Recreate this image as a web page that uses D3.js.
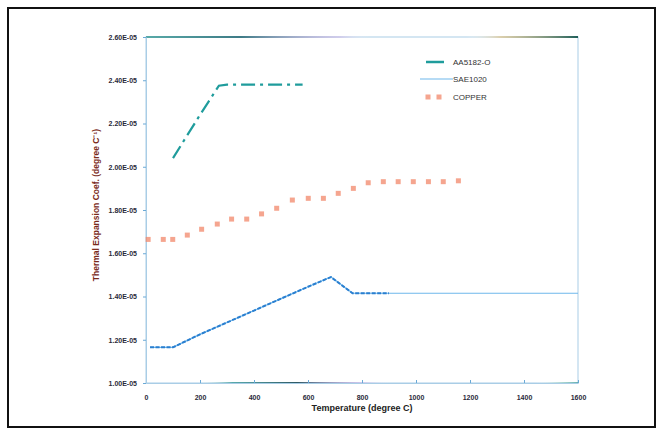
<!DOCTYPE html>
<html>
<head>
<meta charset="utf-8">
<script src="https://cdn.jsdelivr.net/npm/d3@7"></script>
<style>
  body { margin: 0; background: #fff; }
  text { font-family: "Liberation Sans", Arial, sans-serif; }
</style>
</head>
<body>
<div id="chart"></div>
<script>
// temperature (degree C) and coefficient values
const aaTemp = [100, 200, 270, 300, 400, 500, 580];
const aaCoef = [2.04e-5, 2.24e-5, 2.375e-5, 2.38e-5, 2.38e-5, 2.38e-5, 2.38e-5];

const saeTemp = [15, 100, 200, 300, 400, 500, 600, 685, 765, 900, 1100, 1300, 1600];
const saeCoef = [1.165e-5, 1.165e-5, 1.225e-5, 1.28e-5, 1.335e-5, 1.39e-5, 1.445e-5, 1.49e-5, 1.415e-5, 1.415e-5, 1.415e-5, 1.415e-5, 1.415e-5];

const cuTemp = [8, 64, 99, 153, 206, 264, 317, 373, 428, 484, 542, 601, 657, 712, 768, 823, 879, 934, 990, 1046, 1101, 1157];
const cuCoef = [1.664e-5, 1.664e-5, 1.664e-5, 1.684e-5, 1.711e-5, 1.735e-5, 1.758e-5, 1.758e-5, 1.782e-5, 1.808e-5, 1.846e-5, 1.854e-5, 1.854e-5, 1.877e-5, 1.90e-5, 1.926e-5, 1.931e-5, 1.931e-5, 1.931e-5, 1.931e-5, 1.931e-5, 1.935e-5];

const xTicks = [0, 200, 400, 600, 800, 1000, 1200, 1400, 1600];
const yTicks = [1.0e-5, 1.2e-5, 1.4e-5, 1.6e-5, 1.8e-5, 2.0e-5, 2.2e-5, 2.4e-5, 2.6e-5];
const legendNames = ['AA5182-O', 'SAE1020', 'COPPER'];

const W = 662, H = 435;
const margin = { top: 37, right: 84, bottom: 52, left: 146 };
const width = W - margin.left - margin.right;
const height = H - margin.top - margin.bottom;

const svg = d3.select('#chart').append('svg')
    .attr('width', W)
    .attr('height', H);

// outer frame
svg.append('rect')
    .attr('x', 8).attr('y', 8)
    .attr('width', 647).attr('height', 419)
    .attr('fill', 'none')
    .attr('stroke', '#111')
    .attr('stroke-width', 2);

const chart = svg.append('g')
    .attr('transform', `translate(${margin.left},${margin.top})`);

const x = d3.scaleLinear().domain([0, 1600]).range([0, width]);
const y = d3.scaleLinear().domain([1.0e-5, 2.6e-5]).range([height, 0]);

// plot box
chart.append('rect')
    .attr('width', width).attr('height', height)
    .attr('fill', 'none')
    .attr('stroke', '#a9cde6')
    .attr('stroke-width', 1);

// faded darker strokes along top / bottom edges (scan look)
const defs = svg.append('defs');
const grad = defs.append('linearGradient')
    .attr('id', 'edge').attr('x1', '0%').attr('x2', '100%');
[['0%', '#4aa3a0', 0.9], ['22%', '#2d6f7a', 0.9], ['45%', '#c9a0e0', 0.35], ['52%', '#ffffff', 0],
 ['74%', '#ffffff', 0], ['82%', '#e0c080', 0.6], ['100%', '#1f5f5a', 1]]
    .forEach(s => grad.append('stop').attr('offset', s[0]).attr('stop-color', s[1]).attr('stop-opacity', s[2]));
chart.append('rect')
    .attr('x', 0).attr('y', -1).attr('width', width).attr('height', 2)
    .attr('fill', 'url(#edge)');

const grad2 = defs.append('linearGradient')
    .attr('id', 'edge2').attr('x1', '0%').attr('x2', '100%');
[['12%', '#ffffff', 0], ['20%', '#3a9a9a', 0.8], ['35%', '#1d4a55', 0.9], ['50%', '#c090e0', 0.35], ['57%', '#ffffff', 0],
 ['90%', '#ffffff', 0], ['96%', '#9ad0c0', 0.6], ['100%', '#4aa3a0', 0.8]]
    .forEach(s => grad2.append('stop').attr('offset', s[0]).attr('stop-color', s[1]).attr('stop-opacity', s[2]));
chart.append('rect')
    .attr('x', 0).attr('y', height - 1).attr('width', width).attr('height', 2)
    .attr('fill', 'url(#edge2)');

// axes
const xAxis = chart.append('g')
    .attr('transform', `translate(0,${height})`)
    .call(d3.axisBottom(x).tickValues(xTicks).tickFormat(d3.format('d'))
        .tickSizeInner(-3).tickSizeOuter(0).tickPadding(12));
const yAxis = chart.append('g')
    .call(d3.axisLeft(y).tickValues(yTicks).tickSizeInner(3).tickSizeOuter(0).tickPadding(6)
        .tickFormat(d => d3.format('.2e')(d).replace('e-', 'E-0').toUpperCase()));

[xAxis, yAxis].forEach(a => {
    a.select('.domain').attr('stroke', '#a9cde6');
    a.selectAll('.tick line').attr('stroke', '#6aa9d6');
    a.selectAll('.tick text')
        .attr('fill', '#2a2a3a')
        .style('font-size', '7px')
        .style('font-weight', 'bold');
});

// series
const line = d3.line().x(d => x(d[0])).y(d => y(d[1]));

const aaData = aaTemp.map((t, i) => [t, aaCoef[i]]);
const saeData = saeTemp.map((t, i) => [t, saeCoef[i]]);
const cuData = cuTemp.map((t, i) => [t, cuCoef[i]]);

chart.append('path')
    .datum(aaData)
    .attr('d', line)
    .attr('fill', 'none')
    .attr('stroke', '#1f9c9c')
    .attr('stroke-width', 2.2)
    .attr('stroke-dasharray', '14,5,3,5');

chart.append('path')
    .datum(saeData)
    .attr('d', line)
    .attr('fill', 'none')
    .attr('stroke', '#6fb8ec')
    .attr('stroke-width', 1.2);

chart.append('path')
    .datum(saeData.filter(d => d[0] <= 900))
    .attr('d', line)
    .attr('fill', 'none')
    .attr('stroke', '#2a7fd0')
    .attr('stroke-width', 2)
    .attr('stroke-dasharray', '4,1.5');

chart.selectAll('.cu')
    .data(cuData)
    .enter().append('rect')
    .attr('class', 'cu')
    .attr('x', d => x(d[0]) - 2.5)
    .attr('y', d => y(d[1]) - 2.5)
    .attr('width', 5)
    .attr('height', 5)
    .attr('fill', '#f2876a')
    .attr('opacity', 0.75);

// legend
const legend = svg.append('g').attr('transform', 'translate(420,62)');
legend.append('line')
    .attr('x1', 6).attr('x2', 24).attr('y1', 0).attr('y2', 0)
    .attr('stroke', '#1f9c9c').attr('stroke-width', 2.5);
legend.append('line')
    .attr('x1', 0).attr('x2', 33).attr('y1', 17).attr('y2', 17)
    .attr('stroke', '#6fb8ec').attr('stroke-width', 1.2);
[8, 19].forEach(dx => legend.append('rect')
    .attr('x', dx - 2.5).attr('y', 35 - 2.5)
    .attr('width', 5).attr('height', 5)
    .attr('fill', '#f2876a').attr('opacity', 0.75));
legend.selectAll('.lt')
    .data(legendNames)
    .enter().append('text')
    .attr('class', 'lt')
    .attr('x', 33)
    .attr('y', (d, i) => [0, 17, 35][i])
    .attr('dy', '0.35em')
    .style('font-size', '8px')
    .attr('fill', '#333')
    .text(d => d);

// axis titles
svg.append('text')
    .attr('x', margin.left + width / 2)
    .attr('y', 411)
    .attr('text-anchor', 'middle')
    .style('font-size', '9px')
    .style('font-weight', 'bold')
    .attr('fill', '#222')
    .text('Temperature (degree C)');

svg.append('text')
    .attr('transform', `translate(99,${margin.top + height / 2 - 5}) rotate(-90)`)
    .attr('text-anchor', 'middle')
    .style('font-size', '8.5px')
    .style('font-weight', 'bold')
    .attr('fill', '#7a2a1a')
    .text('Thermal Expansion Coef. (degree C\u207B\u00B9)');
</script>
</body>
</html>
